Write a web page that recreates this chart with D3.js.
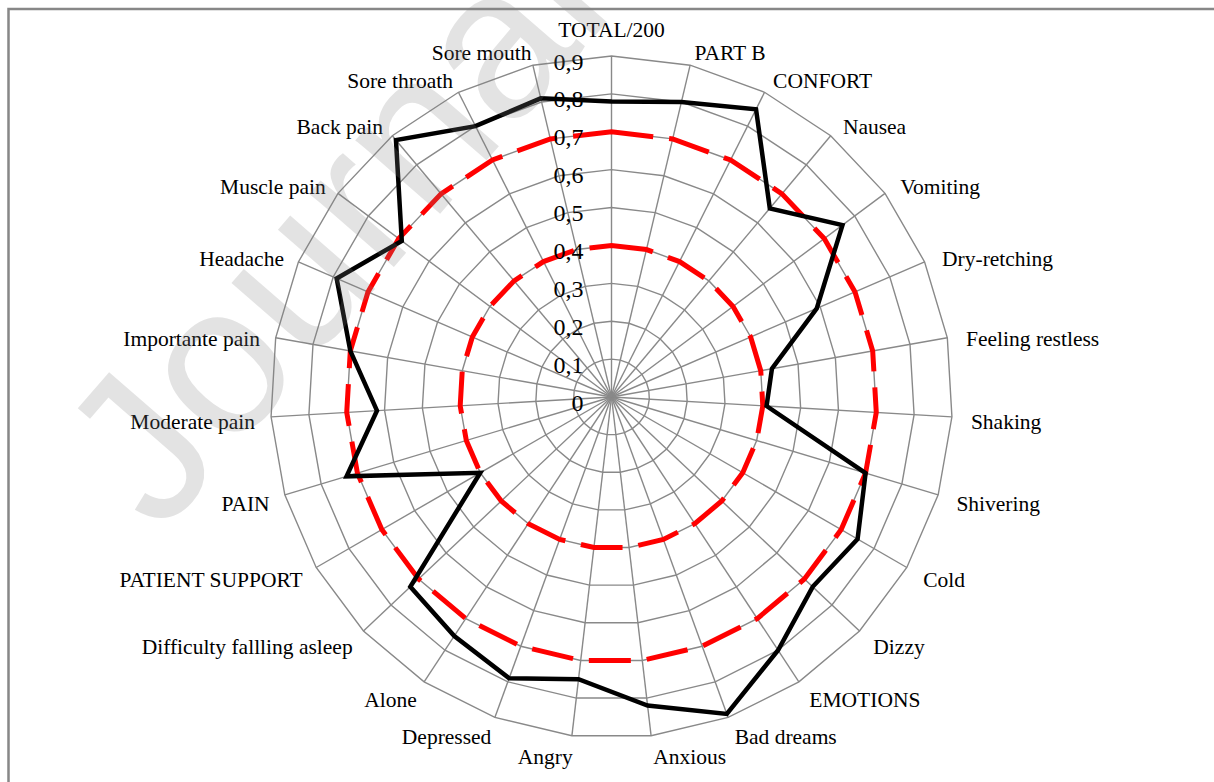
<!DOCTYPE html>
<html lang="en">
<head>
  <meta charset="UTF-8">
  <title>Radar chart</title>
  <script src="https://d3js.org/d3.v7.min.js"></script>
  <style>
    html, body { margin: 0; padding: 0; background: #fff; }
    svg { display: block; }
    .cat { font-family: "Liberation Serif", serif; font-size: 21.5px; fill: #000; }
    .tick { font-family: "Liberation Serif", serif; font-size: 24px; fill: #000; }
  </style>
</head>
<body>
  <div id="chart"></div>
  <script>
    // Axes, clockwise from the top
    const categories = ["TOTAL/200", "PART B", "CONFORT", "Nausea", "Vomiting", "Dry-retching",
      "Feeling restless", "Shaking", "Shivering", "Cold", "Dizzy", "EMOTIONS", "Bad dreams",
      "Anxious", "Angry", "Depressed", "Alone", "Difficulty fallling asleep", "PATIENT SUPPORT",
      "PAIN", "Moderate pain", "Importante pain", "Headache", "Muscle pain", "Back pain",
      "Sore throath", "Sore mouth"];

    // Black solid series
    const scores = [0.78, 0.80, 0.85, 0.65, 0.76, 0.59, 0.43, 0.41, 0.70, 0.75, 0.73, 0.80, 0.89,
      0.82, 0.75, 0.79, 0.755, 0.73, 0.40, 0.73, 0.62, 0.70, 0.79, 0.69, 0.885, 0.80, 0.81];

    // Red dashed reference series
    const upperRef = [0.7, 0.7, 0.7, 0.7, 0.7, 0.7, 0.7, 0.7, 0.7, 0.7, 0.7, 0.7, 0.7, 0.7,
      0.7, 0.7, 0.7, 0.7, 0.7, 0.7, 0.7, 0.7, 0.7, 0.7, 0.7, 0.7, 0.7];
    const lowerRef = [0.4, 0.4, 0.4, 0.4, 0.4, 0.4, 0.4, 0.4, 0.4, 0.4, 0.4, 0.4, 0.4, 0.4,
      0.4, 0.4, 0.4, 0.4, 0.4, 0.4, 0.4, 0.4, 0.4, 0.4, 0.4, 0.4, 0.4];

    const tickValues = [0, 0.1, 0.2, 0.3, 0.4, 0.5, 0.6, 0.7, 0.8, 0.9];

    const width = 1214, height = 782;
    const cx = 611.5, cy = 397, R = 341;

    const svg = d3.select("#chart").append("svg")
      .attr("width", width)
      .attr("height", height);

    // outer frame
    svg.append("rect")
      .attr("x", 8.5).attr("y", 9)
      .attr("width", 1400).attr("height", 1000)
      .attr("fill", "none")
      .attr("stroke", "#878787")
      .attr("stroke-width", 2.5);

    const r = d3.scaleLinear().domain([0, 0.9]).range([0, R]);
    const angle = d3.scaleLinear().domain([0, categories.length]).range([0, 2 * Math.PI]);

    const g = svg.append("g").attr("transform", `translate(${cx},${cy})`);

    const radial = d3.lineRadial()
      .angle((d, i) => angle(i))
      .radius(d => r(d))
      .curve(d3.curveLinearClosed);

    // grid rings (polygons)
    g.append("g")
      .selectAll("path")
      .data(tickValues.filter(t => t > 0))
      .join("path")
      .attr("d", t => radial(categories.map(() => t)))
      .attr("fill", "none")
      .attr("stroke", "#898989")
      .attr("stroke-width", 1.4);

    // spokes
    g.append("g")
      .selectAll("line")
      .data(categories)
      .join("line")
      .attr("x1", 0).attr("y1", 0)
      .attr("x2", (d, i) => r(0.9) * Math.sin(angle(i)))
      .attr("y2", (d, i) => -r(0.9) * Math.cos(angle(i)))
      .attr("stroke", "#898989")
      .attr("stroke-width", 1.4);

    // red dashed series
    [upperRef, lowerRef].forEach(vals => {
      g.append("path")
        .attr("d", radial(vals))
        .attr("fill", "none")
        .attr("stroke", "#ff0000")
        .attr("stroke-width", 5)
        .attr("stroke-dasharray", "42,16");
    });

    // black series
    g.append("path")
      .attr("d", radial(scores))
      .attr("fill", "none")
      .attr("stroke", "#000")
      .attr("stroke-width", 4.5)
      .attr("stroke-linejoin", "miter");

    // value labels along the top axis
    const fmt = d3.formatLocale({decimal: ",", thousands: " ", grouping: [3], currency: ["", ""]}).format(".1f");
    g.append("g")
      .selectAll("text")
      .data(tickValues)
      .join("text")
      .attr("class", "tick")
      .attr("x", -28)
      .attr("y", t => -r(t) + 13.5)
      .attr("text-anchor", "end")
      .text(t => t === 0 ? "0" : fmt(t));

    // category labels
    g.append("g")
      .selectAll("text")
      .data(categories)
      .join("text")
      .attr("class", "cat")
      .each(function (d, i) {
        const a = angle(i), s = Math.sin(a), c = Math.cos(a);
        const t = d3.select(this);
        if (i === 0) {
          t.attr("x", 0).attr("y", -R - 19.5).attr("text-anchor", "middle");
        } else {
          t.attr("x", (R + 19) * s + (s < 0 ? 3 : 0))
           .attr("y", -(R + 17) * c + 11)
           .attr("text-anchor", s > 0 ? "start" : "end");
        }
      })
      .text(d => d);

    // faint watermark
    svg.append("text")
      .attr("transform", "translate(160,536) rotate(-49)")
      .attr("font-family", "Liberation Sans, sans-serif")
      .attr("font-size", 212)
      .attr("fill", "#808080")
      .attr("fill-opacity", 0.22)
      .text("Journal");
  </script>
</body>
</html>
